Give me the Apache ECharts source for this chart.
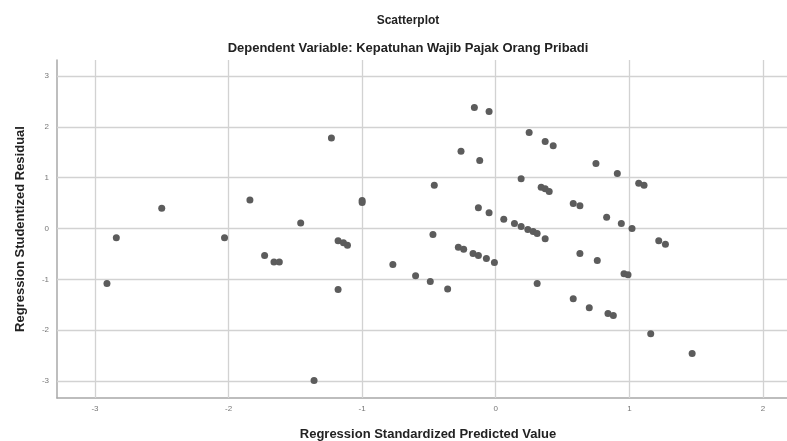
<!DOCTYPE html>
<html>
<head>
<meta charset="utf-8">
<script src="https://cdn.jsdelivr.net/npm/echarts@6/dist/echarts.min.js"></script>
<style>
html,body{margin:0;padding:0;background:#fff;}
#chart{width:787px;height:441px;}
</style>
</head>
<body>
<div id="chart"></div>
<script>
// Regression Standardized Predicted Value (x)
var predicted = [
  -2.91, -2.84, -2.50, -2.03, -1.84, -1.73, -1.66, -1.62, -1.46, -1.23,
  -1.18, -1.14, -1.11, -1.18, -1.00, -1.00, -1.36, -0.77, -0.60, -0.49,
  -0.36, -0.46, -0.47, -0.28, -0.24, -0.17, -0.13, -0.07, -0.01, -0.13,
  -0.05, 0.06, 0.14, 0.19, 0.24, 0.28, 0.31, 0.37, -0.16, -0.05,
  -0.26, -0.12, 0.25, 0.37, 0.43, 0.19, 0.34, 0.37, 0.40, 0.75,
  0.91, 1.07, 1.11, 0.58, 0.63, 0.83, 0.94, 1.02, 1.22, 1.27,
  0.63, 0.76, 0.96, 0.99, 0.58, 0.70, 0.84, 0.88, 0.31, 1.16,
  1.47
];
// Regression Studentized Residual (y)
var residual = [
  -1.08, -0.18, 0.40, -0.18, 0.56, -0.53, -0.66, -0.66, 0.11, 1.78,
  -0.24, -0.28, -0.33, -1.20, 0.55, 0.51, -2.99, -0.71, -0.93, -1.04,
  -1.19, 0.85, -0.12, -0.37, -0.41, -0.49, -0.53, -0.59, -0.67, 0.41,
  0.31, 0.18, 0.10, 0.04, -0.02, -0.06, -0.10, -0.20, 2.38, 2.30,
  1.52, 1.34, 1.89, 1.71, 1.63, 0.98, 0.81, 0.78, 0.73, 1.28,
  1.08, 0.89, 0.85, 0.49, 0.45, 0.22, 0.10, 0.00, -0.24, -0.31,
  -0.49, -0.63, -0.89, -0.91, -1.38, -1.56, -1.67, -1.71, -1.08, -2.07,
  -2.46
];
var xTicks = [-3, -2, -1, 0, 1, 2];
var yTicks = [-3, -2, -1, 0, 1, 2, 3];
var chartTitle = 'Scatterplot';
var chartSubtitle = 'Dependent Variable: Kepatuhan Wajib Pajak Orang Pribadi';
var xName = 'Regression Standardized Predicted Value';
var yName = 'Regression Studentized Residual';

var points = predicted.map(function (x, i) { return [x, residual[i]]; });
var gridData = xTicks.map(function (v) { return { xAxis: v }; })
  .concat(yTicks.map(function (v) { return { yAxis: v }; }));

var chart = echarts.init(document.getElementById('chart'), null, { renderer: 'canvas' });
var font = '"Liberation Sans", Arial, sans-serif';
chart.setOption({
  animation: false,
  backgroundColor: '#ffffff',
  title: [
    { text: chartTitle, left: 403, top: 10, textAlign: 'center',
      textStyle: { fontFamily: font, fontSize: 12, fontWeight: 'bold', color: '#222' } },
    { text: chartSubtitle, left: 403, top: 37, textAlign: 'center',
      textStyle: { fontFamily: font, fontSize: 13, fontWeight: 'bold', color: '#222' } }
  ],
  grid: { left: 57, top: 60, right: 0, bottom: 43, containLabel: false, outerBoundsMode: 'none' },
  xAxis: {
    type: 'value', min: -3.284, max: 2.18,
    name: xName, nameLocation: 'middle', nameGap: 30,
    nameTextStyle: { fontFamily: font, fontSize: 13, fontWeight: 'bold', color: '#222', padding: [0, 0, 0, 12] },
    axisLine: { show: true, onZero: false, lineStyle: { color: '#a8a8a8', width: 1.5 } },
    axisTick: { show: false },
    splitLine: { show: false },
    axisLabel: { customValues: xTicks, fontFamily: font, fontSize: 8, color: '#777', margin: 7 }
  },
  yAxis: {
    type: 'value', min: -3.334, max: 3.315,
    name: yName, nameLocation: 'middle', nameGap: 30,
    nameTextStyle: { fontFamily: font, fontSize: 13, fontWeight: 'bold', color: '#222' },
    axisLine: { show: true, onZero: false, lineStyle: { color: '#a8a8a8', width: 1.5 } },
    axisTick: { show: false },
    splitLine: { show: false },
    axisLabel: { customValues: yTicks, fontFamily: font, fontSize: 8, color: '#777', margin: 8 }
  },
  series: [
    {
      type: 'scatter', data: [], z: 1, silent: true,
      markLine: {
        silent: true, symbol: ['none', 'none'], animation: false,
        label: { show: false },
        lineStyle: { color: '#d2d2d2', width: 1.3, type: 'solid' },
        emphasis: { disabled: true },
        data: gridData
      }
    },
    {
      type: 'scatter', data: points, z: 5,
      symbol: 'circle', symbolSize: 7,
      itemStyle: { color: '#5c5c5c', opacity: 1 }
    }
  ]
});
</script>
</body>
</html>
